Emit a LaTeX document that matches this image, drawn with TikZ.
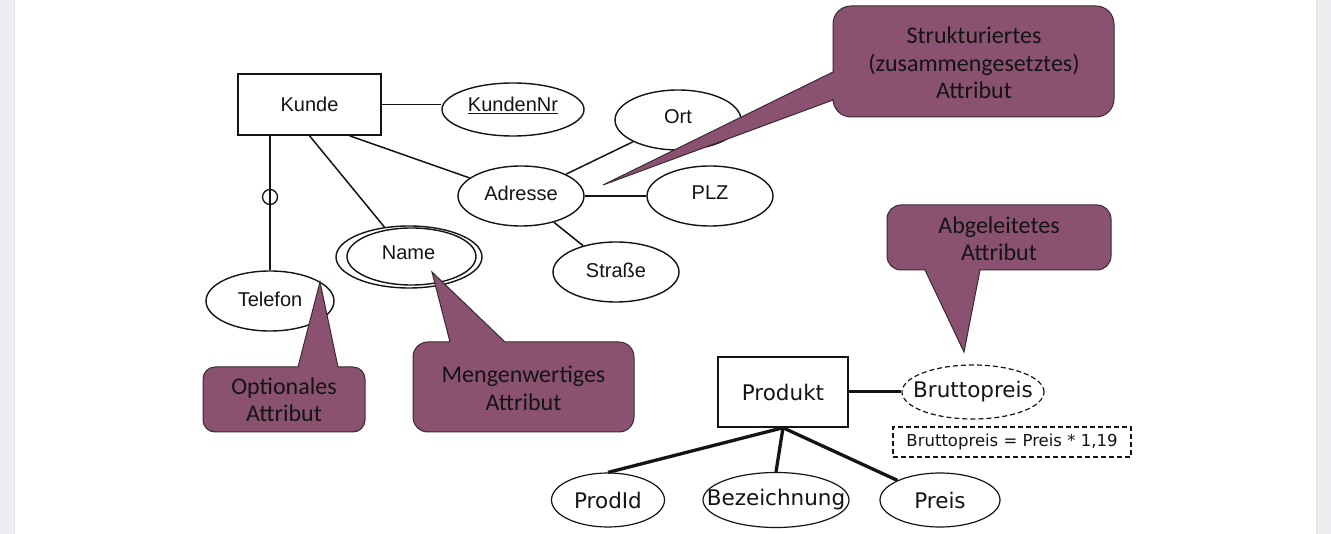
\documentclass[tikz,border=0pt]{standalone}
\usepackage{fontspec}
\setmainfont{Liberation Sans}
\newfontfamily\erfont{Liberation Sans}
\newfontfamily\vfont{DejaVu Sans}
\newfontfamily\cfont{Carlito}
\usetikzlibrary{shapes.geometric}
\definecolor{callfill}{HTML}{8A5270}
\definecolor{callline}{HTML}{3A2A33}
\definecolor{inkc}{HTML}{141414}
\definecolor{pageband}{HTML}{EDEDF2}
\definecolor{bandedge}{HTML}{E2E2E8}
\begin{document}
\begin{tikzpicture}[x=1pt,y=-1pt,
  erline/.style={line width=1.5pt, draw=inkc},
  ent/.style={draw=inkc, line width=1.5pt, rectangle, inner sep=0pt},
  attr/.style={draw=inkc, line width=1.4pt, ellipse, inner sep=0pt},
  erlbl/.style={font=\erfont\fontsize{20}{24}\selectfont, text=inkc, inner sep=0pt},
  plbl/.style={font=\vfont\fontsize{21.5}{25}\selectfont, text=inkc, inner sep=0pt},
  callout/.style={fill=callfill, draw=callline, line width=1pt},
  ctext/.style={font=\cfont\fontsize{24}{27.5}\selectfont, text=inkc, align=center, inner sep=0pt},
  thickline/.style={line width=3.3pt, draw=inkc},
  dash5/.style={dash pattern=on 5pt off 3pt},
]
\useasboundingbox (0,0) rectangle (1331,534);
\fill[white] (0,0) rectangle (1331,534);
\fill[pageband] (0,0) rectangle (14,534);
\fill[pageband] (1316,0) rectangle (1331,534);
\draw[bandedge, line width=1pt] (14,0) -- (14,534);
\draw[bandedge, line width=1pt] (1316,0) -- (1316,534);

% ---------- Kunde ----------
\node[ent, erlbl, minimum width=143pt, minimum height=61pt] (kunde) at (309.5,104.5) {Kunde};
\node[attr, minimum width=142pt, minimum height=53pt,
      label={[erlbl, yshift=4pt]center:\underline{KundenNr}}] (kundennr) at (513,109.5) {};
\node[attr, minimum width=126pt, minimum height=60pt,
      label={[erlbl, yshift=3pt]center:Adresse}] (adresse) at (521,196) {};
\node[attr, minimum width=126pt, minimum height=60pt,
      label={[erlbl, yshift=3pt]center:Ort}] (ort) at (678,120) {};
\node[attr, minimum width=126pt, minimum height=60pt,
      label={[erlbl, yshift=3pt]center:PLZ}] (plz) at (710,196) {};
\node[attr, minimum width=126pt, minimum height=60pt,
      label={[erlbl, yshift=2pt]center:Straße}] (strasse) at (616,272) {};
\node[attr, minimum width=128pt, minimum height=60pt,
      label={[erlbl, yshift=2pt]center:Telefon}] (telefon) at (270,301) {};
\node[attr, minimum width=146pt, minimum height=62pt] (nameo) at (409,257) {};
\node[attr, minimum width=129pt, minimum height=57pt,
      label={[erlbl, xshift=-3pt, yshift=4pt]center:Name}] (namei) at (411.5,256.5) {};

\draw[erline] (kunde.east) -- (kunde.east -| kundennr.west);
\draw[erline] (kunde.south) -- (nameo);
\draw[erline] ([xshift=40pt]kunde.south) -- (adresse);
\draw[erline] (kunde.south -| telefon.north) -- (telefon.north);
\node[draw=inkc, line width=1.3pt, circle, minimum size=15pt, inner sep=0pt] (optc) at (270,197) {};
\draw[erline] (adresse) -- (ort);
\draw[erline] (adresse) -- (plz);
\draw[erline] (adresse) -- (strasse);

% ---------- Produkt ----------
\node[ent, plbl, minimum width=130pt, minimum height=70pt] (produkt) at (783,392) {Produkt};
\node[attr, line width=1.2pt, minimum width=113pt, minimum height=54pt,
      label={[plbl]center:ProdId}] (prodid) at (608,500) {};
\node[attr, line width=1.2pt, minimum width=146pt, minimum height=55pt,
      label={[plbl]center:Bezeichnung}] (bez) at (776,500) {};
\node[attr, line width=1.2pt, minimum width=120pt, minimum height=54pt,
      label={[plbl]center:Preis}] (preis) at (940,500) {};
\node[attr, line width=1.2pt, dash5, minimum width=142pt, minimum height=54pt,
      label={[plbl]center:Bruttopreis}] (brutto) at (973,392) {};
\node[draw=inkc, line width=1.3pt, dash5, rectangle, inner sep=0pt,
      minimum width=238pt, minimum height=30pt,
      font=\vfont\fontsize{16.5}{20}\selectfont, text=inkc] (formel) at (1012,442) {Bruttopreis = Preis * 1,19};

\draw[thickline] (produkt.south) -- (prodid.north);
\draw[thickline] (produkt.south) -- (bez.north);
\draw[thickline] (produkt.south) -- (preis);
\draw[line width=3pt, draw=inkc] (produkt.east) -- (brutto.west);

% ---------- Callouts ----------
% Optionales Attribut
\draw[callout] (203,400) [rounded corners=12pt] -- (203,367) [sharp corners] -- (298,367)
   -- (320,282) -- (338,367) [rounded corners=12pt] -- (365,367) -- (365,432) -- (203,432) -- cycle;
\node[ctext] (t-opt) at (284,400) {Optionales\\Attribut};

% Mengenwertiges Attribut
\draw[callout] (413,390) [rounded corners=15pt] -- (413,342) [sharp corners] -- (450,342)
   -- (432,272) -- (505,342) [rounded corners=15pt] -- (634,342) -- (634,432) -- (413,432) -- cycle;
\node[ctext] (t-mengen) at (523.5,388.5) {Mengenwertiges\\Attribut};

% Strukturiertes Attribut
\draw[callout] (973,6) [rounded corners=18pt] -- (1114,6) -- (1114,117) -- (833,117) [sharp corners]
   -- (833,100) -- (603,185) -- (833,72) [rounded corners=18pt] -- (833,6) -- cycle;
\node[ctext] (t-strukt) at (974,63) {Strukturiertes\\(zusammengesetztes)\\Attribut};

% Abgeleitetes Attribut
\draw[callout] (999,205) [rounded corners=14pt] -- (1111,205) -- (1111,270) [sharp corners]
   -- (980,270) -- (964,352) -- (925,270) [rounded corners=14pt] -- (887,270) -- (887,205) -- cycle;
\node[ctext] (t-abgel) at (999,239) {Abgeleitetes\\Attribut};
\end{tikzpicture}
\end{document}
